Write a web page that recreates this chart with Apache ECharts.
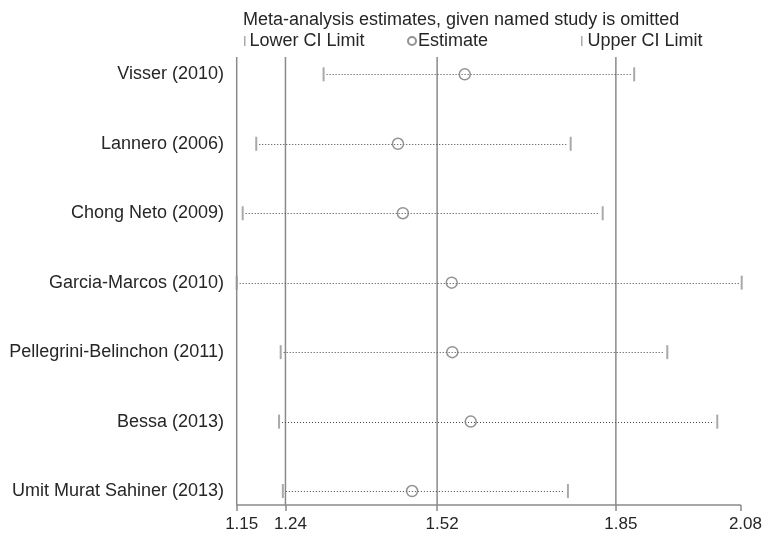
<!DOCTYPE html>
<html>
<head>
<meta charset="utf-8">
<script src="https://cdn.jsdelivr.net/npm/echarts@6/dist/echarts.min.js"></script>
<style>
html,body{margin:0;padding:0;background:#fff;}
#chart{width:765px;height:537px;}
</style>
</head>
<body>
<div id="chart"></div>
<script>
const titleText = 'Meta-analysis estimates, given named study is omitted';
const studies = ['Visser (2010)', 'Lannero (2006)', 'Chong Neto (2009)', 'Garcia-Marcos (2010)', 'Pellegrini-Belinchon (2011)', 'Bessa (2013)', 'Umit Murat Sahiner (2013)'];
const estimates = [1.570, 1.447, 1.456, 1.546, 1.547, 1.581, 1.473];
const lowerCI = [1.310, 1.186, 1.161, 1.150, 1.231, 1.228, 1.235];
const upperCI = [1.882, 1.765, 1.824, 2.080, 1.943, 2.035, 1.760];
const tickValues = [1.15, 1.24, 1.52, 1.85, 2.08];
const refLines = [1.15, 1.24, 1.52, 1.85];
const legendNames = ['Lower CI Limit', 'Estimate', 'Upper CI Limit'];

const FONT = '"Liberation Sans", Arial, sans-serif';
const GRAY = '#8a8a8a';
const TEXT = '#262626';
const xMin = 1.15, xMax = 2.08;

const chart = echarts.init(document.getElementById('chart'), null, {renderer: 'canvas'});

const option = {
  backgroundColor: '#fff',
  animation: false,
  textStyle: {fontFamily: FONT},
  title: {
    text: titleText, left: 238, top: 6,
    textStyle: {fontFamily: FONT, fontSize: 18, fontWeight: 'normal', color: TEXT}
  },
  legend: [
    {left: 239, top: 27, itemWidth: 1.5, itemHeight: 10,
     data: [{name: legendNames[0], icon: 'rect'}],
     textStyle: {fontFamily: FONT, fontSize: 18, color: TEXT, padding: [0,0,0,-1]}},
    {left: 402, top: 27, itemWidth: 8, itemHeight: 8,
     data: [{name: legendNames[1], icon: 'circle'}],
     textStyle: {fontFamily: FONT, fontSize: 18, color: TEXT, padding: [0,0,0,-3]}},
    {left: 576, top: 27, itemWidth: 1.5, itemHeight: 10,
     data: [{name: legendNames[2], icon: 'rect'}],
     textStyle: {fontFamily: FONT, fontSize: 18, color: TEXT, padding: [0,0,0,0]}}
  ],
  grid: [
    {left: 236.7, right: 23.3, top: 39.6, height: 486.15},
    {left: 236.7, right: 23.3, top: 57, bottom: 32}
  ],
  xAxis: [
    {gridIndex: 0, type: 'value', min: xMin, max: xMax, show: false},
    {gridIndex: 1, type: 'value', min: xMin, max: xMax,
     axisLine: {show: true, lineStyle: {color: GRAY, width: 1.5}},
     axisTick: {show: true, length: 6, inside: false, customValues: tickValues,
                lineStyle: {color: GRAY, width: 1.5}},
     axisLabel: {customValues: tickValues, margin: 11, fontFamily: FONT, fontSize: 17, color: TEXT,
                 padding: [0, 0, 0, 10],
                 formatter: v => v.toFixed(2)},
     splitLine: {show: false}}
  ],
  yAxis: [
    {gridIndex: 0, type: 'category', data: studies, inverse: true,
     axisLine: {show: false}, axisTick: {show: false}, splitLine: {show: false},
     axisLabel: {margin: 12.7, fontFamily: FONT, fontSize: 18, color: TEXT}},
    {gridIndex: 1, type: 'value', min: 0, max: 1, show: false}
  ],
  series: [
    {
      type: 'custom', xAxisIndex: 1, yAxisIndex: 1, silent: true, z: 1,
      data: refLines.map(v => [v]),
      encode: {x: 0},
      renderItem: function (params, api) {
        const a = api.coord([api.value(0), 0]);
        const b = api.coord([api.value(0), 1]);
        return {type: 'line', shape: {x1: a[0], y1: a[1], x2: b[0], y2: b[1]},
                style: {stroke: GRAY, lineWidth: 1.5}};
      }
    },
    {
      type: 'custom', xAxisIndex: 0, yAxisIndex: 0, silent: true, z: 2,
      data: studies.map((s, i) => [lowerCI[i], upperCI[i], i]),
      encode: {x: [0, 1], y: 2},
      renderItem: function (params, api) {
        const a = api.coord([api.value(0), api.value(2)]);
        const b = api.coord([api.value(1), api.value(2)]);
        const y = Math.round(a[1]) + 0.5;
        return {type: 'line', shape: {x1: a[0] + 3, y1: y, x2: b[0] - 3, y2: y},
                style: {stroke: '#444', lineWidth: 1, lineDash: [1, 2]}};
      }
    },
    {
      name: legendNames[0], type: 'scatter', xAxisIndex: 0, yAxisIndex: 0, z: 3,
      symbol: 'rect', symbolSize: [2, 14],
      itemStyle: {color: '#939393'},
      data: studies.map((s, i) => [lowerCI[i], i])
    },
    {
      name: legendNames[1], type: 'scatter', xAxisIndex: 0, yAxisIndex: 0, z: 4,
      symbol: 'circle', symbolSize: 11,
      itemStyle: {color: 'rgba(0,0,0,0)', borderColor: '#777', borderWidth: 1.5},
      data: studies.map((s, i) => [estimates[i], i])
    },
    {
      name: legendNames[2], type: 'scatter', xAxisIndex: 0, yAxisIndex: 0, z: 3,
      symbol: 'rect', symbolSize: [2, 14],
      itemStyle: {color: '#939393'},
      data: studies.map((s, i) => [upperCI[i], i])
    }
  ]
};
chart.setOption(option);
</script>
</body>
</html>
